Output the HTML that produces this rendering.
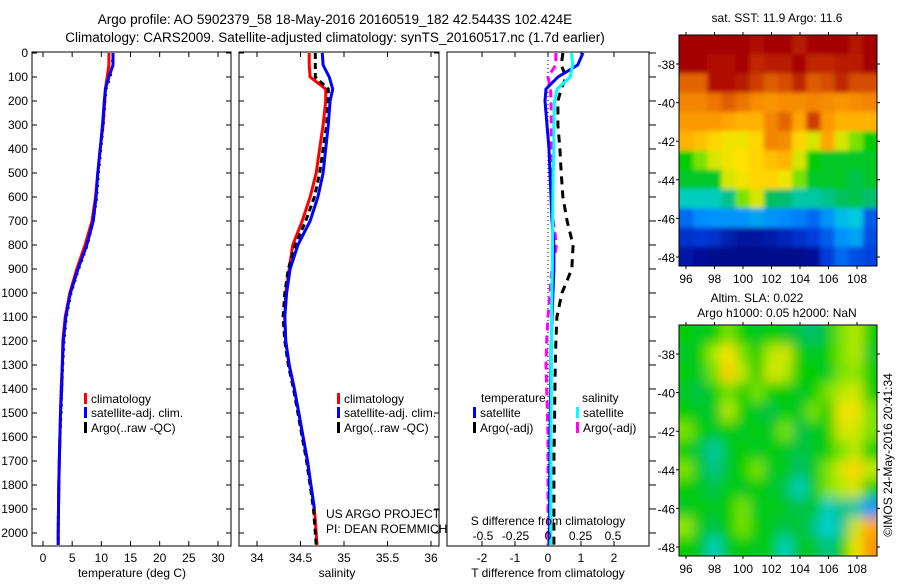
<!DOCTYPE html>
<html><head><meta charset="utf-8"><style>
body{margin:0;background:#fff}
svg text{font-family:"Liberation Sans",sans-serif;fill:#000}
</style></head><body>
<svg id="fig" width="900" height="580" xmlns="http://www.w3.org/2000/svg">
<text x="335" y="24" font-size="13.5" text-anchor="middle">Argo profile: AO 5902379_58 18-May-2016 20160519_182 42.5443S 102.424E</text>
<text x="335" y="42" font-size="13.5" text-anchor="middle">Climatology: CARS2009. Satellite-adjusted climatology: synTS_20160517.nc (1.7d earlier)</text>
<g id="p1"></g>
<g id="p2"></g>
<g id="p3"></g>
<g id="m1"></g>
<g id="m2"></g>
<text x="777" y="22" font-size="12" text-anchor="middle">sat. SST: 11.9 Argo: 11.6</text>
<text x="757" y="302" font-size="12" text-anchor="middle">Altim. SLA: 0.022</text>
<text x="777" y="317" font-size="12" text-anchor="middle">Argo h1000: 0.05 h2000: NaN</text>
<text transform="translate(892,455) rotate(-90)" font-size="12" text-anchor="middle">©IMOS 24-May-2016 20:41:34</text>
</svg>
<script>
// ---- data ----
const depths=[0,50,100,150,200,300,400,500,600,700,800,900,1000,1100,1200,1300,1400,1500,1600,1700,1800,1900,2000,2050];
const tempClim=[11.3,11.3,11.0,10.7,10.6,10.3,9.8,9.4,9.0,8.4,7.2,5.8,4.6,3.8,3.4,3.3,3.1,3.0,2.9,2.8,2.7,2.65,2.6,2.6];
const tempSat=[12.0,12.0,11.3,10.7,10.5,10.2,9.8,9.4,9.1,8.6,7.5,6.0,4.7,3.9,3.5,3.3,3.2,3.0,2.9,2.8,2.7,2.65,2.6,2.6];
const tempArgo=[12.0,11.9,11.5,10.8,10.6,10.3,9.9,9.5,9.2,8.6,7.6,6.1,4.8,4.0,3.6,3.4,3.2,3.1,2.9,2.8,2.7,2.65,2.6,2.6];
const salClim=[34.60,34.60,34.61,34.79,34.79,34.76,34.72,34.68,34.61,34.52,34.41,34.37,34.33,34.32,34.33,34.37,34.43,34.48,34.53,34.58,34.62,34.66,34.68,34.69];
const salSat=[34.75,34.76,34.83,34.87,34.84,34.82,34.79,34.76,34.70,34.61,34.47,34.38,34.34,34.32,34.33,34.37,34.43,34.48,34.53,34.58,34.62,34.66,34.68,34.69];
const salArgo=[34.67,34.67,34.67,34.82,34.82,34.80,34.76,34.72,34.66,34.56,34.44,34.36,34.32,34.30,34.32,34.36,34.42,34.47,34.52,34.57,34.61,34.65,34.67,34.68];
const dTsat=[1.06,0.9,0.3,-0.06,-0.09,-0.03,0.03,0.06,0.09,0.12,0.18,0.18,0.15,0.12,0.1,0.09,0.08,0.07,0.06,0.06,0.05,0.05,0.05,0.05];
const dSsat=[0.18,0.19,0.17,0.07,0.05,0.045,0.045,0.04,0.038,0.036,0.035,0.033,0.03,0.028,0.027,0.026,0.025,0.024,0.023,0.022,0.022,0.021,0.021,0.021];
const dTargo=[0.45,0.4,0.55,0.4,0.3,0.3,0.36,0.4,0.45,0.58,0.76,0.72,0.42,0.27,0.24,0.22,0.21,0.2,0.19,0.18,0.18,0.18,0.18,0.18];
const dSargo=[0.06,0.06,0.0,0.02,0.023,0.025,0.025,0.027,0.03,0.04,0.065,0.03,0.015,0.0,-0.01,-0.015,-0.01,-0.005,0.0,0.0,0.0,0.0,0.0,0.0];
const tempTicks=[0,5,10,15,20,25,30];
const salTicks=[34,34.5,35,35.5,36];
const dTTicks=[-2,-1,0,1,2];
const dSTicks=[-0.5,-0.25,0,0.25,0.5];
const depthTicks=[0,100,200,300,400,500,600,700,800,900,1000,1100,1200,1300,1400,1500,1600,1700,1800,1900,2000];
const lonTicks=[96,98,100,102,104,106,108];
const latTicks=[-38,-40,-42,-44,-46,-48];
const sstGrid=[
[1,1,1,1,1,.97,1,1,.95,1,1,1,.96,1],
[1,1,.97,.97,1,.93,.95,.95,1,.93,.93,.95,.95,1],
[.85,.85,.97,.97,.95,.9,.86,.88,.93,.86,.88,.93,.88,.88],
[.8,.8,.83,.86,.83,.78,.76,.78,.78,.8,.78,.76,.78,.8],
[.75,.75,.75,.72,.7,.7,.8,.85,.72,.9,.75,.7,.7,.7],
[.7,.68,.65,.62,.62,.65,.8,.78,.65,.6,.72,.6,.55,.5],
[.5,.55,.6,.62,.63,.65,.68,.7,.6,.5,.48,.48,.48,.48],
[.48,.48,.48,.6,.62,.65,.65,.62,.55,.48,.48,.48,.46,.48],
[.38,.38,.38,.42,.55,.6,.45,.44,.4,.4,.42,.45,.46,.44],
[.22,.27,.28,.28,.28,.3,.28,.27,.25,.22,.28,.33,.35,.2],
[.12,.14,.12,.08,.05,.05,.07,.1,.12,.15,.2,.28,.3,.18],
[.06,.04,.02,.02,.02,.02,.02,.02,.02,.04,.15,.22,.18,.16]];
const slaGrid=[
[.5,.48,.5,.55,.5,.48,.5,.48,.46,.44,.48,.55,.58,.5],
[.48,.5,.57,.63,.55,.5,.58,.6,.5,.48,.5,.55,.58,.48],
[.5,.48,.55,.66,.58,.5,.6,.58,.5,.5,.48,.55,.56,.5],
[.48,.46,.5,.55,.5,.55,.5,.5,.48,.5,.55,.58,.6,.5],
[.5,.48,.48,.58,.5,.48,.46,.5,.48,.55,.5,.62,.62,.55],
[.55,.5,.48,.5,.48,.5,.48,.55,.46,.48,.5,.6,.6,.55],
[.5,.46,.4,.48,.5,.48,.5,.48,.46,.48,.5,.55,.58,.5],
[.55,.48,.42,.48,.5,.55,.48,.5,.44,.48,.55,.6,.65,.58],
[.5,.48,.46,.5,.48,.5,.48,.46,.38,.48,.55,.58,.6,.5],
[.48,.5,.48,.5,.55,.48,.5,.48,.46,.48,.38,.42,.4,.28],
[.56,.48,.46,.5,.55,.5,.48,.46,.48,.43,.36,.42,.6,.72],
[.5,.48,.38,.48,.5,.48,.5,.38,.48,.48,.42,.5,.62,.76]];

const NS="http://www.w3.org/2000/svg";
function mk(parent,tag,attrs){const e=document.createElementNS(NS,tag);for(const k in attrs)e.setAttribute(k,attrs[k]);parent.appendChild(e);return e;}
function lin(d0,d1,r0,r1){return v=>r0+(v-d0)*(r1-r0)/(d1-d0);}
const yD=lin(0,2000,53,533);

function frame(g,x0,x1,y0,y1){
  const r=mk(g,'rect',{x:x0,y:y0,width:x1-x0,height:y1-y0,fill:'none',stroke:'#000','stroke-width':1});
  
  
}
function depthAxis(g,x0,x1,labels){
  depthTicks.forEach(d=>{
    const y=yD(d);
    const t=mk(g,'path',{d:`M${x0},${y}h5M${x1},${y}h-5`,stroke:'#000'});
    
    
    if(labels){const l=mk(g,'text',{x:x0-4,y:y+4,'font-size':12,'text-anchor':'end'});l.textContent=d;
      
      }
  });
}
function xAxis(g,ticks,sx,y0,y1,ly,fmt){
  ticks.forEach(v=>{const x=sx(v);
    const t=mk(g,'path',{d:`M${x},${y1}v-5M${x},${y0}v5`,stroke:'#000'});
    
    
    const l=mk(g,'text',{x:x,y:ly,'font-size':12,'text-anchor':'middle'});l.textContent=fmt?fmt(v):v;
    
    });
}
function series(g,xs,sx,color,dash,name){
  const pts=xs.map((v,i)=>`${sx(v).toFixed(1)},${yD(depths[i]).toFixed(1)}`).join(' ');
  const p=mk(g,'polyline',{points:pts,fill:'none',stroke:color,'stroke-width':3});
  if(dash)p.setAttribute('stroke-dasharray',dash);
  
  
}
function text(g,x,y,s,name,anchor,size){const t=mk(g,'text',{x:x,y:y,'font-size':size||12,'text-anchor':anchor||'start'});t.textContent=s;
  
  return t;}
function legend(g,x,y,color,label,name){
  const r=mk(g,'rect',{x:x,y:y-10,width:3,height:11,fill:color});
  
  
  text(g,x+7,y,label,name);
}

// panel 1
const p1=document.getElementById('p1');
const sT=lin(0,30,43,218);
frame(p1,32,231,52,546);depthAxis(p1,32,231,true);
xAxis(p1,tempTicks,sT,52,546,562);
series(p1,tempClim,sT,'#f00',null,'temp-climatology-line');
series(p1,tempArgo,sT,'#000','2 5','temp-argo-line');
series(p1,tempSat,sT,'#00f',null,'temp-satellite-line');
legend(p1,84,403,'#f00','climatology','legend-climatology');
legend(p1,84,417,'#00f','satellite-adj. clim.','legend-satellite');
legend(p1,84,432,'#000','Argo(..raw -QC)','legend-argo');
text(p1,132,577,'temperature (deg C)','temp-axis-title','middle');

// panel 2
const p2=document.getElementById('p2');
const sS=lin(34,36,257,431);
frame(p2,239,439,52,546);depthAxis(p2,239,439,false);
xAxis(p2,salTicks,sS,52,546,562);
series(p2,salClim,sS,'#f00',null,'sal-climatology-line');
series(p2,salArgo,sS,'#000','6 4','sal-argo-line');
series(p2,salSat.slice(0,22),sS,'#00f',null,'sal-satellite-line');
legend(p2,337,403,'#f00','climatology','legend-climatology-2');
legend(p2,337,417,'#00f','satellite-adj. clim.','legend-satellite-2');
legend(p2,337,432,'#000','Argo(..raw -QC)','legend-argo-2');
text(p2,326,518,'US ARGO PROJECT','project-credit');
text(p2,326,533,'PI: DEAN ROEMMICH','pi-credit');
text(p2,337,577,'salinity','sal-axis-title','middle');

// panel 3
const p3=document.getElementById('p3');
const sdT=lin(0,2,548,614), sdS=lin(0,0.5,548,613);
frame(p3,447,649,52,546);
depthTicks.forEach(d=>{const y=yD(d);const t=mk(p3,'path',{d:`M649,${y}h7`,stroke:'#000'});
  
  });
dTTicks.forEach(v=>{const x=sdT(v);const t=mk(p3,'path',{d:`M${x},546v-5M${x},52v5`,stroke:'#000'});
  
  
  text(p3,x,562,String(v),'t-diff-tick-label','middle');});
const z=mk(p3,'line',{x1:548,x2:548,y1:52,y2:546,stroke:'#000','stroke-dasharray':'1 3'});


series(p3,dSargo,sdS,'#f0f','8 5','s-argo-diff-line');
series(p3,dTargo,sdT,'#000','8 6','t-argo-diff-line');
series(p3,dTsat,sdT,'#00f',null,'t-satellite-diff-line');
series(p3,dSsat,sdS,'#0ff',null,'s-satellite-diff-line');
dSTicks.forEach(v=>text(p3,sdS(v),540,String(v),'s-diff-tick-label','middle'));
text(p3,481,402,'temperature','legend-temperature-heading');
text(p3,582,402,'salinity','legend-salinity-heading');
legend(p3,473,417,'#00f','satellite','legend-t-satellite');
legend(p3,473,432,'#000','Argo(-adj)','legend-t-argo');
legend(p3,576,417,'#0ff','satellite','legend-s-satellite');
legend(p3,576,432,'#f0f','Argo(-adj)','legend-s-argo');
text(p3,548,525,'S difference from climatology','s-diff-axis-title','middle');
text(p3,548,577,'T difference from climatology','t-diff-axis-title','middle');

// maps
const stops=[[0,[0,0,128]],[.15,[0,60,220]],[.27,[0,140,255]],[.36,[0,210,220]],[.44,[0,190,110]],[.5,[0,205,0]],[.57,[170,235,0]],[.63,[255,225,0]],[.72,[255,165,0]],[.82,[240,125,0]],[.92,[195,45,0]],[1,[165,0,0]]];
function pal(v){v=Math.max(0,Math.min(1,v));
  for(let i=1;i<stops.length;i++){if(v<=stops[i][0]){const a=stops[i-1],b=stops[i],t=(v-a[0])/(b[0]-a[0]);
    return `rgb(${a[1].map((c,k)=>Math.round(c+t*(b[1][k]-c))).join(',')})`;}}
  return 'rgb(165,0,0)';}
const sLon=lin(96,108,686,857), sLat=lin(-38,-48,0,193);
function map(id,grid,y0,blur){
  const g=document.getElementById(id);
  const x0=679,x1=877,h=231,rows=grid.length,cols=grid[0].length;
  const cw=(x1-x0)/cols, rh=h/rows;
  const cp=mk(g,'clipPath',{id:id+'c'});mk(cp,'rect',{x:x0,y:y0,width:x1-x0,height:h});
  if(blur){const f=mk(g,'filter',{id:id+'f'});mk(f,'feGaussianBlur',{stdDeviation:blur});}
  const ig=mk(g,'g',{'clip-path':`url(#${id}c)`});
  const inner=mk(ig,'g',{filter:`url(#${id}f)`});
  grid.forEach((row,r)=>row.forEach((v,c)=>{
    const cell=mk(inner,'rect',{x:x0+c*cw-(c==0?10:0),y:y0+r*rh-(r==0?10:0),width:cw+0.6+(c==0||c==cols-1?10:0),height:rh+0.6+(r==0||r==rows-1?10:0),fill:pal(v)});
    
    
  }));
  frame(g,x0,x1,y0,y0+h);
  lonTicks.forEach(v=>{const x=sLon(v);mk(g,'path',{d:`M${x},${y0+h}v3M${x},${y0}v-3`,stroke:'#000'});
    text(g,x,y0+h+17,String(v),'lon-tick-label','middle');});
  latTicks.forEach(v=>{const y=y0+29+sLat(v);mk(g,'path',{d:`M${x0},${y}h-3M${x1},${y}h3`,stroke:'#000'});
    text(g,x0-4,y+5,String(v),'lat-tick-label','end');});
}
map('m1',sstGrid,35,2.5);
map('m2',slaGrid,325,6);
</script>
</body></html>
